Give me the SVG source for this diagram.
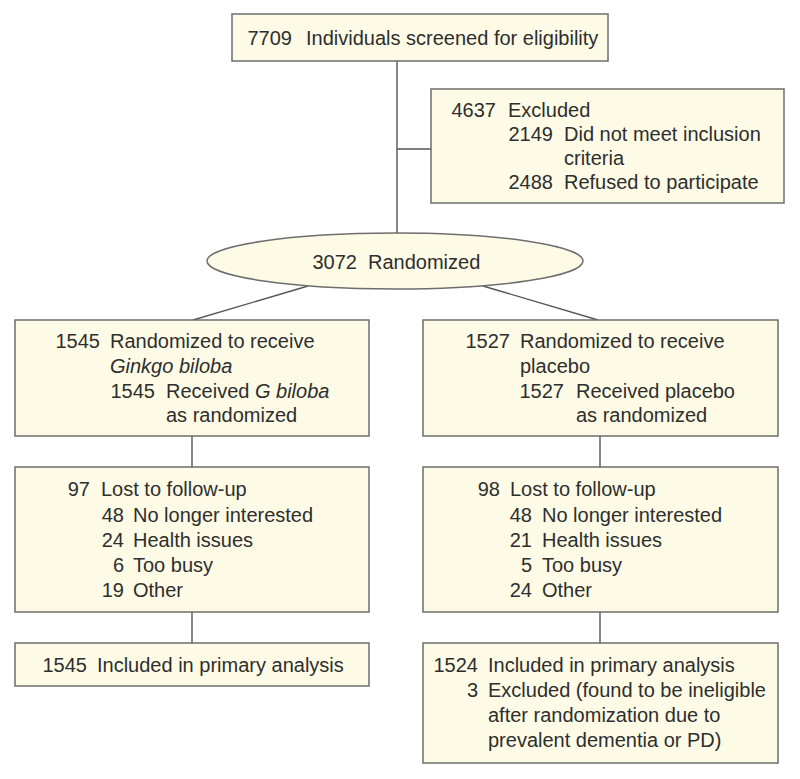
<svg xmlns="http://www.w3.org/2000/svg" width="800" height="779" viewBox="0 0 800 779">
<style>
.box{fill:#fdfbe6;stroke:#6e6e6e;stroke-width:1.5}
.ln{stroke:#555;stroke-width:1.4;fill:none}
text{font-family:"Liberation Sans",Arial,sans-serif;font-size:20px;fill:#2e2e2e}
.e{text-anchor:end}
.i{font-style:italic}
</style>
<rect width="800" height="779" fill="#ffffff"/>
<g id="connectors">
<line class="ln" x1="397" y1="61" x2="397" y2="233"/>
<line class="ln" x1="397" y1="149" x2="431" y2="149"/>
<line class="ln" x1="308" y1="286" x2="193" y2="320"/>
<line class="ln" x1="483" y1="286" x2="598" y2="320"/>
<line class="ln" x1="192" y1="436" x2="192" y2="467"/>
<line class="ln" x1="192" y1="612" x2="192" y2="643"/>
<line class="ln" x1="600" y1="436" x2="600" y2="467"/>
<line class="ln" x1="600" y1="612" x2="600" y2="643"/>
</g>
<g id="screened">
<rect class="box" x="232" y="14" width="376" height="47"/>
<text class="e" x="292" y="45">7709</text>
<text x="306" y="45">Individuals screened for eligibility</text>
</g>
<g id="excluded">
<rect class="box" x="431" y="89" width="353" height="114"/>
<text class="e" x="496" y="117">4637</text>
<text x="508" y="117">Excluded</text>
<text class="e" x="553" y="141">2149</text>
<text x="564" y="141">Did not meet inclusion</text>
<text x="564" y="165">criteria</text>
<text class="e" x="553" y="189">2488</text>
<text x="564" y="189">Refused to participate</text>
</g>
<g id="randomized">
<ellipse class="box" cx="395" cy="261" rx="188" ry="28"/>
<text class="e" x="357" y="269">3072</text>
<text x="368" y="269">Randomized</text>
</g>
<g id="ginkgo">
<rect class="box" x="15" y="320" width="354" height="116"/>
<text class="e" x="100" y="348">1545</text>
<text x="110" y="348">Randomized to receive</text>
<text class="i" x="110" y="373">Ginkgo biloba</text>
<text class="e" x="155" y="398">1545</text>
<text x="166" y="398">Received <tspan class="i">G biloba</tspan></text>
<text x="166" y="422">as randomized</text>
</g>
<g id="placebo">
<rect class="box" x="423" y="320" width="355" height="116"/>
<text class="e" x="510" y="348">1527</text>
<text x="520" y="348">Randomized to receive</text>
<text x="520" y="373">placebo</text>
<text class="e" x="564" y="398">1527</text>
<text x="576" y="398">Received placebo</text>
<text x="576" y="422">as randomized</text>
</g>
<g id="lost-ginkgo">
<rect class="box" x="15" y="467" width="354" height="145"/>
<text class="e" x="90" y="496">97</text>
<text x="101" y="496">Lost to follow-up</text>
<text class="e" x="124" y="522">48</text>
<text x="133" y="522">No longer interested</text>
<text class="e" x="124" y="547">24</text>
<text x="133" y="547">Health issues</text>
<text class="e" x="124" y="572">6</text>
<text x="133" y="572">Too busy</text>
<text class="e" x="124" y="597">19</text>
<text x="133" y="597">Other</text>
</g>
<g id="lost-placebo">
<rect class="box" x="423" y="467" width="355" height="145"/>
<text class="e" x="500" y="496">98</text>
<text x="510" y="496">Lost to follow-up</text>
<text class="e" x="532" y="522">48</text>
<text x="542" y="522">No longer interested</text>
<text class="e" x="532" y="547">21</text>
<text x="542" y="547">Health issues</text>
<text class="e" x="532" y="572">5</text>
<text x="542" y="572">Too busy</text>
<text class="e" x="532" y="597">24</text>
<text x="542" y="597">Other</text>
</g>
<g id="analysis-ginkgo">
<rect class="box" x="15" y="643" width="354" height="43"/>
<text class="e" x="87" y="672">1545</text>
<text x="97" y="672">Included in primary analysis</text>
</g>
<g id="analysis-placebo">
<rect class="box" x="423" y="643" width="355" height="120"/>
<text class="e" x="478" y="672">1524</text>
<text x="488" y="672">Included in primary analysis</text>
<text class="e" x="478" y="697">3</text>
<text x="488" y="697">Excluded (found to be ineligible</text>
<text x="488" y="722">after randomization due to</text>
<text x="488" y="747">prevalent dementia or PD)</text>
</g>
</svg>
